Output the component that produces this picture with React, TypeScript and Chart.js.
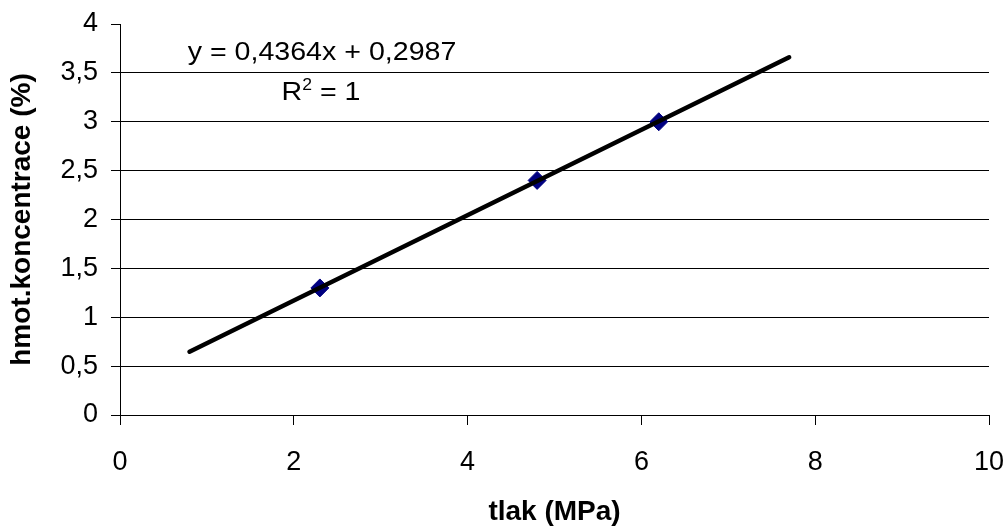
import React, { useEffect, useRef } from "react";
import { Chart, registerables } from "chart.js";

Chart.register(...registerables);

// ---- data ----
const pressure = [2.3, 4.8, 6.2]; // tlak (MPa)
const concentration = [1.3, 2.4, 3.0]; // hmot. koncentrace (%)
const trendX = [0.8, 7.7]; // extent of the linear trendline
const slope = 0.4364;
const intercept = 0.2987;
const equationLabel = "y = 0,4364x + 0,2987";
const rSquaredValue = "1";
const xTitle = "tlak (MPa)";
const yTitle = "hmot.koncentrace (%)";
const xMin = 0;
const xMax = 10;
const xStep = 2;
const yMin = 0;
const yMax = 4;
const yStep = 0.5;

const FONT = '"Liberation Sans", Arial, Helvetica, sans-serif';

const equationPlugin = {
  id: "equationText",
  afterDatasetsDraw(chart: any) {
    const { ctx, chartArea } = chart;
    const cx = chartArea.left + 202;
    ctx.save();
    ctx.fillStyle = "#000";
    ctx.textBaseline = "alphabetic";
    // equation line
    ctx.font = `26px ${FONT}`;
    ctx.textAlign = "center";
    ctx.save();
    ctx.translate(cx, chartArea.top + 36);
    ctx.scale(1.1, 1);
    ctx.fillText(equationLabel, 0, 0);
    ctx.restore();
    // R^2 line
    const big = `26px ${FONT}`;
    const small = `16px ${FONT}`;
    ctx.font = big;
    const wR = ctx.measureText("R").width;
    const wRest = ctx.measureText(" = " + rSquaredValue).width;
    ctx.font = small;
    const w2 = ctx.measureText("2").width;
    const total = (wR + w2 + wRest) * 1.1;
    ctx.save();
    ctx.translate(cx - 1 - total / 2, chartArea.top + 76);
    ctx.scale(1.1, 1);
    ctx.textAlign = "left";
    ctx.font = big;
    ctx.fillText("R", 0, 0);
    ctx.font = small;
    ctx.fillText("2", wR, -10);
    ctx.font = big;
    ctx.fillText(" = " + rSquaredValue, wR + w2, 0);
    ctx.restore();
    ctx.restore();
  },
};

export default function App() {
  const canvasRef = useRef<HTMLCanvasElement | null>(null);

  useEffect(() => {
    document.body.style.margin = "0";
    document.body.style.overflow = "hidden";
    const canvas = canvasRef.current;
    if (!canvas) return;

    const points = pressure.map((x, i) => ({ x, y: concentration[i] }));
    const trend = trendX.map((x) => ({ x, y: slope * x + intercept }));

    const chart = new Chart(canvas, {
      type: "scatter",
      data: {
        datasets: [
          {
            label: "trend",
            data: trend,
            showLine: true,
            borderColor: "#000",
            borderWidth: 4.5,
            borderCapStyle: "round",
            pointRadius: 0,
            pointHoverRadius: 0,
            order: 0,
          },
          {
            label: "data",
            data: points,
            pointStyle: "rectRot",
            pointRadius: 9,
            pointHoverRadius: 9,
            backgroundColor: "#000080",
            borderColor: "#000080",
            borderWidth: 1,
            order: 1,
          },
        ],
      },
      options: {
        animation: false,
        responsive: false,
        events: [],
        layout: { padding: { top: 24, right: 17, left: 0, bottom: 0 } },
        plugins: {
          legend: { display: false },
          tooltip: { enabled: false },
        },
        scales: {
          x: {
            type: "linear",
            min: xMin,
            max: xMax,
            afterFit: (scale: any) => {
              scale.height = 111;
              scale.paddingLeft = 0;
              scale.paddingRight = 0;
            },
            ticks: {
              stepSize: xStep,
              color: "#000",
              padding: 21,
              maxRotation: 0,
              font: { family: FONT, size: 27 },
            },
            grid: {
              drawOnChartArea: false,
              drawTicks: true,
              tickLength: 10,
              tickColor: "#000",
              color: "#000",
            },
            border: { display: true, color: "#000", width: 1 },
            title: {
              display: true,
              text: xTitle,
              color: "#000",
              padding: { top: 0, bottom: 0 },
              font: { family: FONT, size: 28, weight: "bold", lineHeight: 1 },
            },
          },
          y: {
            type: "linear",
            min: yMin,
            max: yMax,
            afterFit: (scale: any) => {
              scale.width = 120;
              scale.paddingTop = 0;
              scale.paddingBottom = 0;
            },
            ticks: {
              stepSize: yStep,
              color: "#000",
              padding: 13,
              font: { family: FONT, size: 27 },
              callback: (v: any) => String(v).replace(".", ","),
            },
            grid: {
              drawTicks: true,
              tickLength: 9,
              tickColor: "#000",
              lineWidth: 1,
              color: (c: any) =>
                c.tick && c.tick.value === yMax ? "rgba(0,0,0,0)" : "#000",
            },
            border: { display: true, color: "#000", width: 1 },
            title: {
              display: true,
              text: yTitle,
              color: "#000",
              padding: { top: 8, bottom: 0 },
              font: { family: FONT, size: 28, weight: "bold", lineHeight: 1 },
            },
          },
        },
      },
      plugins: [equationPlugin],
    } as any);

    return () => chart.destroy();
  }, []);

  return (
    <div style={{ width: 1006, height: 526 }}>
      <canvas ref={canvasRef} width={1006} height={526} style={{ display: "block" }} />
    </div>
  );
}
